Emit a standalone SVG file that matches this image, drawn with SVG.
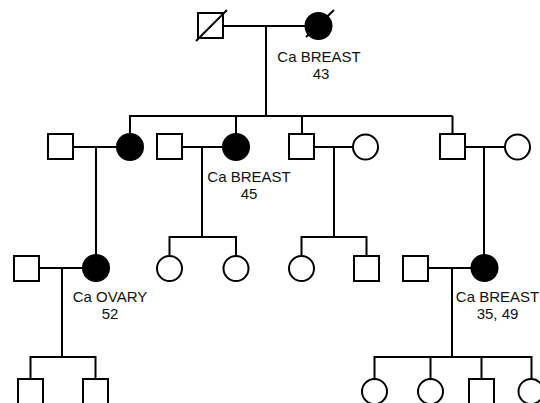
<svg xmlns="http://www.w3.org/2000/svg" width="540" height="403" viewBox="0 0 540 403">
<style>
.m{fill:#fff;stroke:#000;stroke-width:2}
.f{fill:#fff;stroke:#000;stroke-width:2}
.a{fill:#000;stroke:#000;stroke-width:2}
.c{fill:none;stroke:#000;stroke-width:2}
.t{font-family:"Liberation Sans",Arial,sans-serif;font-size:15px;fill:#111;text-anchor:middle}
</style>
<rect width="540" height="403" fill="#fff"/>
<g id="connectors">
<path class="c" d="M223 26H305M266 26V116M129 116H452.5"/>
<path class="c" d="M130 116V134M236 116V134M302 116V134M452.5 116V134"/>
<path class="c" d="M73 147H117M96 147V255M182 147H223M202 147V237M314 147H353M334 147V237M465 147H505M484 147V255"/>
<path class="c" d="M169.5 237H236M169.5 236V256M236 236V256M301.5 237H366.5M301.5 236V256M366.5 236V256"/>
<path class="c" d="M39 268H83M62 268V357M30.5 357H95.5M30.5 356V379M95.5 356V379"/>
<path class="c" d="M428 268H471.5M452 268V357M374.5 357H531.5M374.5 356V379M430.5 356V379M481.5 356V379M531.5 356V379"/>
</g>
<g id="I1"><rect class="m" x="198" y="13" width="25" height="25"/><line class="c" x1="196" y1="41" x2="227" y2="10"/></g>
<g id="I2"><circle class="a" cx="318.5" cy="26" r="13"/><line class="c" x1="306" y1="37" x2="334" y2="10"/>
<text class="t" x="319" y="62">Ca BREAST</text><text class="t" x="321" y="79">43</text></g>
<g id="II1"><rect class="m" x="48" y="134" width="25" height="25"/></g>
<g id="II2"><circle class="a" cx="130" cy="147" r="13"/></g>
<g id="II3"><rect class="m" x="157" y="134" width="25" height="25"/></g>
<g id="II4"><circle class="a" cx="236" cy="147" r="13"/>
<text class="t" x="249" y="182">Ca BREAST</text><text class="t" x="249" y="199">45</text></g>
<g id="II5"><rect class="m" x="289" y="134" width="25" height="25"/></g>
<g id="II6"><circle class="f" cx="365.5" cy="147" r="12.5"/></g>
<g id="II7"><rect class="m" x="440" y="134" width="25" height="25"/></g>
<g id="II8"><circle class="f" cx="517.5" cy="147" r="12.5"/></g>
<g id="III1"><rect class="m" x="14" y="256" width="25" height="25"/></g>
<g id="III2"><circle class="a" cx="96" cy="268" r="13"/>
<text class="t" x="110" y="302">Ca OVARY</text><text class="t" x="110" y="319">52</text></g>
<g id="III3"><circle class="f" cx="169.5" cy="268.5" r="12.5"/></g>
<g id="III4"><circle class="f" cx="236" cy="268.5" r="12.5"/></g>
<g id="III5"><circle class="f" cx="301.5" cy="268.5" r="12.5"/></g>
<g id="III6"><rect class="m" x="354" y="256" width="25" height="25"/></g>
<g id="III7"><rect class="m" x="403" y="256" width="25" height="25"/></g>
<g id="III8"><circle class="a" cx="484.5" cy="268" r="13"/>
<text class="t" x="497.5" y="302">Ca BREAST</text><text class="t" x="497.5" y="319">35, 49</text></g>
<g id="IV1"><rect class="m" x="18" y="379" width="25" height="25"/></g>
<g id="IV2"><rect class="m" x="83" y="379" width="25" height="25"/></g>
<g id="IV3"><circle class="f" cx="374.5" cy="391.5" r="12.5"/></g>
<g id="IV4"><circle class="f" cx="430.5" cy="391.5" r="12.5"/></g>
<g id="IV5"><rect class="m" x="469" y="379" width="25" height="25"/></g>
<g id="IV6"><circle class="f" cx="531" cy="391.5" r="12.5"/></g>
</svg>
